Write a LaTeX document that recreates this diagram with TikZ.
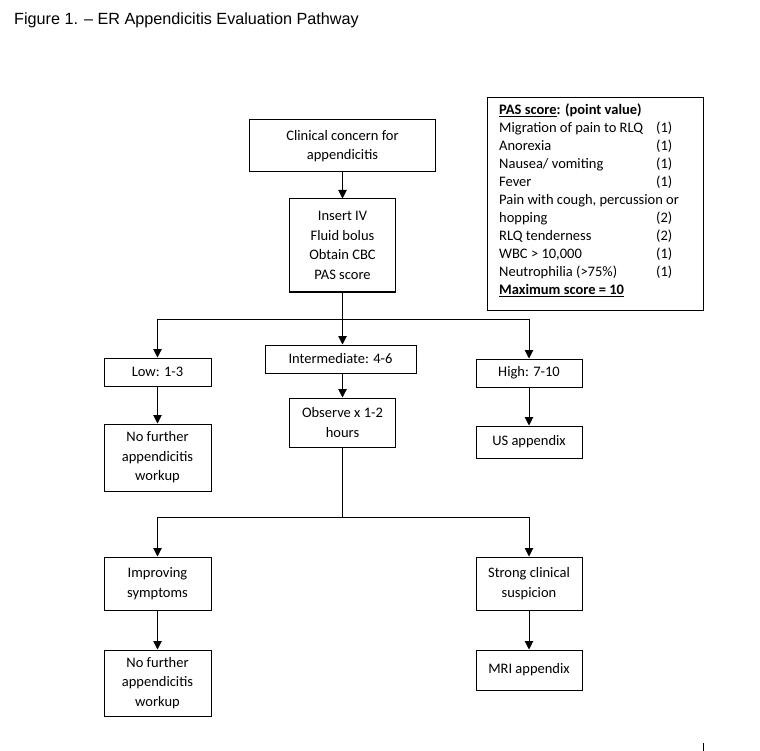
\documentclass[tikz,border=0pt]{standalone}
\usepackage{fontspec}
\setmainfont{Carlito}
\newfontfamily\titlefont{Liberation Sans}
\usetikzlibrary{arrows.meta}
\tikzset{
  box/.style={draw, line width=1pt, rectangle, inner sep=0pt, align=center, font=\fontsize{14.5}{19.5}\selectfont},
  arr/.style={line width=1pt, -{Triangle[width=8.5pt,length=8.5pt]}},
  ln/.style={line width=1pt}
}
\begin{document}
\begin{tikzpicture}[x=1pt,y=-1pt]
\useasboundingbox (0,0) rectangle (760,751);
\node[anchor=west, inner sep=0pt, font=\titlefont\fontsize{16.2}{18}\selectfont] (title) at (14,20) {Figure 1. \textendash\ ER Appendicitis Evaluation Pathway};

\node[box, minimum width=186, minimum height=52] (cc) at (342.5,146) {Clinical concern for\\appendicitis};
\node[box, minimum width=106, minimum height=93] (iv) at (342.5,245.5) {Insert IV\\Fluid bolus\\Obtain CBC\\PAS score};
\node[box, minimum width=107, minimum height=28] (low) at (157.5,372) {Low: 1-3};
\node[box, minimum width=151, minimum height=28] (inter) at (340.5,359) {Intermediate: 4-6};
\node[box, minimum width=106, minimum height=28] (high) at (529,373) {High: 7-10};
\node[box, minimum width=106, minimum height=49] (obs) at (342.5,422.5) {Observe x 1-2\\hours};
\node[box, minimum width=106, minimum height=32] (us) at (529,442) {US appendix};
\node[box, minimum width=107, minimum height=67] (nf1) at (157.5,457.5) {No further\\appendicitis\\workup};
\node[box, minimum width=107, minimum height=53] (imp) at (157.5,583.5) {Improving\\symptoms};
\node[box, minimum width=106, minimum height=53] (strong) at (529,583.5) {Strong clinical\\suspicion};
\node[box, minimum width=107, minimum height=66] (nf2) at (157.5,683) {No further\\appendicitis\\workup};
\node[box, minimum width=106, minimum height=40] (mri) at (529,670) {MRI appendix};

\coordinate (b1) at (342.5,319);
\coordinate (b2) at (342.5,517);

\draw[arr] (cc.south) -- (iv.north);
\draw[ln] (iv.south) -- (b1);
\draw[arr] (b1) -| (low.north);
\draw[arr] (b1) -| (high.north);
\draw[arr] (b1) -- (b1 |- inter.north);
\draw[arr] (low.south) -- (nf1.north);
\draw[arr] (obs.north |- inter.south) -- (obs.north);
\draw[arr] (high.south) -- (us.north);
\draw[ln] (obs.south) -- (b2);
\draw[arr] (b2) -| (imp.north);
\draw[arr] (b2) -| (strong.north);
\draw[arr] (imp.south) -- (nf2.north);
\draw[arr] (strong.south) -- (mri.north);

\node[draw, line width=1pt, minimum width=216, minimum height=213, anchor=north west, inner sep=0pt] (pas) at (487,97) {};
\node[anchor=north west, inner sep=0pt, font=\fontsize{14.5}{18}\selectfont] (pastext) at (499,102) {%
\begin{tabular}{@{}p{157pt}@{}l@{}}
\textbf{\underline{PAS score}: (point value)} & \\
Migration of pain to RLQ & (1)\\
Anorexia & (1)\\
Nausea/ vomiting & (1)\\
Fever & (1)\\
\multicolumn{2}{@{}l@{}}{Pain with cough, percussion or}\\
hopping & (2)\\
RLQ tenderness & (2)\\
WBC > 10,000 & (1)\\
Neutrophilia (>75\%) & (1)\\
\textbf{\underline{Maximum score = 10}} & \\
\end{tabular}};

\coordinate (mk1) at (703.5,743);
\coordinate (mk2) at (703.5,751);
\draw[ln] (mk1) -- (mk2);
\end{tikzpicture}
\end{document}
